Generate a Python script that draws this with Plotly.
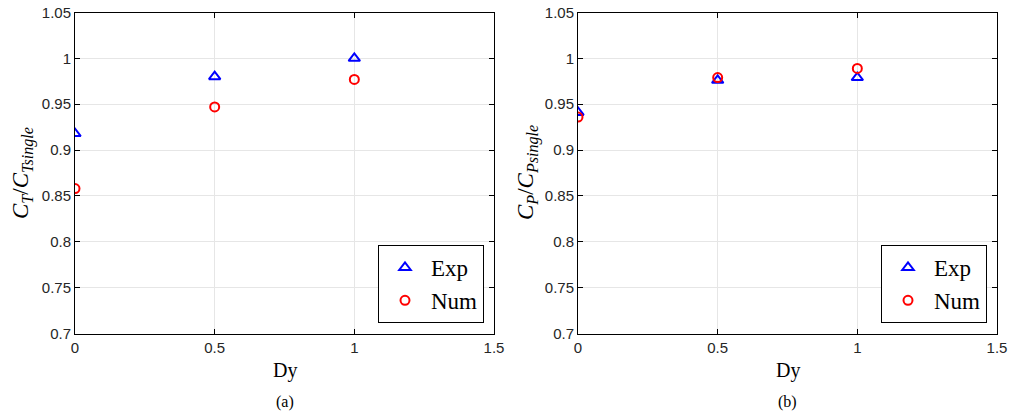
import plotly.graph_objects as go

dy = [0, 0.5, 1]
ct_exp = [0.918, 0.980, 1.000]
ct_num = [0.858, 0.947, 0.977]
cp_exp = [0.941, 0.976, 0.979]
cp_num = [0.936, 0.979, 0.989]

yticks = [0.7, 0.75, 0.8, 0.85, 0.9, 0.95, 1.0, 1.05]
yticklabels = ["0.7", "0.75", "0.8", "0.85", "0.9", "0.95", "1", "1.05"]
xticks = [0, 0.5, 1, 1.5]
xticklabels = ["0", "0.5", "1", "1.5"]

W, H = 1010, 416
fig = go.Figure()

exp_style = dict(mode="markers", name="Exp",
                 marker=dict(symbol="triangle-up-open", size=10, color="#0000ff", line=dict(width=2, color="#0000ff")))
num_style = dict(mode="markers", name="Num",
                 marker=dict(symbol="circle-open", size=9, color="#ff0000", line=dict(width=2, color="#ff0000")))

fig.add_trace(go.Scatter(x=dy, y=ct_exp, xaxis="x", yaxis="y", legend="legend", **exp_style))
fig.add_trace(go.Scatter(x=dy, y=ct_num, xaxis="x", yaxis="y", legend="legend", **num_style))
fig.add_trace(go.Scatter(x=dy, y=cp_exp, xaxis="x2", yaxis="y2", legend="legend2", **exp_style))
fig.add_trace(go.Scatter(x=dy, y=cp_num, xaxis="x2", yaxis="y2", legend="legend2", **num_style))

tickfont = dict(family="Liberation Sans", size=15, color="#262626")
common_axis = dict(showline=True, linecolor="black", linewidth=1, mirror="ticks",
                   ticks="inside", ticklen=5, tickcolor="black",
                   showgrid=True, gridcolor="#e6e6e6", gridwidth=1,
                   zeroline=False, tickfont=tickfont, automargin=False)

ytop, ybot = 12.5, 333.5
ydom = [1 - ybot / H, 1 - ytop / H]
left_dom = [75 / W, 494 / W]
right_dom = [578 / W, 997 / W]

serif = "Liberation Serif"
legend_common = dict(yanchor="bottom", xanchor="right", bgcolor="white", bordercolor="black", borderwidth=1,
                     font=dict(family=serif, size=23, color="black"), itemwidth=42, tracegroupgap=0)

fig.update_layout(
    width=W, height=H, margin=dict(l=0, r=0, t=0, b=0, autoexpand=False),
    paper_bgcolor="white", plot_bgcolor="white",
    xaxis=dict(domain=left_dom, range=[0, 1.5], tickvals=xticks, ticktext=xticklabels, anchor="y", **common_axis),
    yaxis=dict(domain=ydom, range=[0.7, 1.05], tickvals=yticks, ticktext=yticklabels, anchor="x", **common_axis),
    xaxis2=dict(domain=right_dom, range=[0, 1.5], tickvals=xticks, ticktext=xticklabels, anchor="y2", **common_axis),
    yaxis2=dict(domain=ydom, range=[0.7, 1.05], tickvals=yticks, ticktext=yticklabels, anchor="x2", **common_axis),
    legend=dict(x=484 / W, y=1 - 323 / H, **legend_common),
    legend2=dict(x=987 / W, y=1 - 323 / H, **legend_common),
    showlegend=True,
)

ann = []
for cx, lab in [((left_dom[0] + left_dom[1]) / 2, "(a)"), ((right_dom[0] + right_dom[1]) / 2, "(b)")]:
    ann.append(dict(x=cx, y=1 - 370 / H, xref="paper", yref="paper", text="Dy", showarrow=False,
                    font=dict(family=serif, size=20, color="black"), xanchor="center", yanchor="middle"))
    ann.append(dict(x=cx, y=1 - 402 / H, xref="paper", yref="paper", text=lab, showarrow=False,
                    font=dict(family=serif, size=16, color="black"), xanchor="center", yanchor="middle"))
for xp, sym in [(22, "T"), (527, "P")]:
    ann.append(dict(x=xp / W, y=1 - 173 / H, xref="paper", yref="paper", showarrow=False, textangle=-90,
                    text=f"<i>C<sub>{sym}</sub></i>/<i>C<sub>{sym}single</sub></i>",
                    font=dict(family=serif, size=23, color="black"), xanchor="center", yanchor="middle"))
fig.update_layout(annotations=ann)

fig.write_html("out.html")
